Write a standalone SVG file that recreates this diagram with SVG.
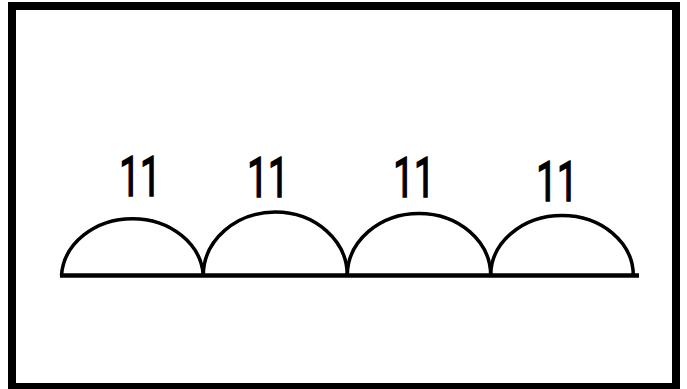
<svg xmlns="http://www.w3.org/2000/svg" width="687" height="389" viewBox="0 0 687 389">
<style>
.frame{fill:#fff;stroke:#000;stroke-width:8}
.arc{fill:none;stroke:#000;stroke-width:3.5}
.base{fill:none;stroke:#000;stroke-width:4.5;stroke-linecap:butt}
.lbl{font-family:Roboto,'Open Sans',sans-serif;font-size:56px;fill:#000;stroke:#000;stroke-width:1.6;text-anchor:middle}
</style>
<rect class="frame" x="12" y="6" width="664" height="381"/>
<g id="arcs">
<path class="arc" d="M61.5,275.5 A71,60 0 0 1 203.3,275.5"/>
<path class="arc" d="M203.3,275.5 A72,63.5 0 0 1 347.3,275.5"/>
<path class="arc" d="M347.3,275.5 A71.7,62 0 0 1 490.7,275.5"/>
<path class="arc" d="M490.7,275.5 A71.3,60 0 0 1 633.3,275.5"/>
</g>
<g id="baseline">
<line class="base" x1="60" y1="275.5" x2="639" y2="275.5"/>
</g>
<g id="label1"><text class="lbl" transform="translate(140,196.2) scale(0.66,1)">11</text></g>
<g id="label2"><text class="lbl" transform="translate(268,197.2) scale(0.66,1)">11</text></g>
<g id="label3"><text class="lbl" transform="translate(414,196.5) scale(0.66,1)">11</text></g>
<g id="label4"><text class="lbl" transform="translate(557,201.2) scale(0.66,1)">11</text></g>
</svg>
